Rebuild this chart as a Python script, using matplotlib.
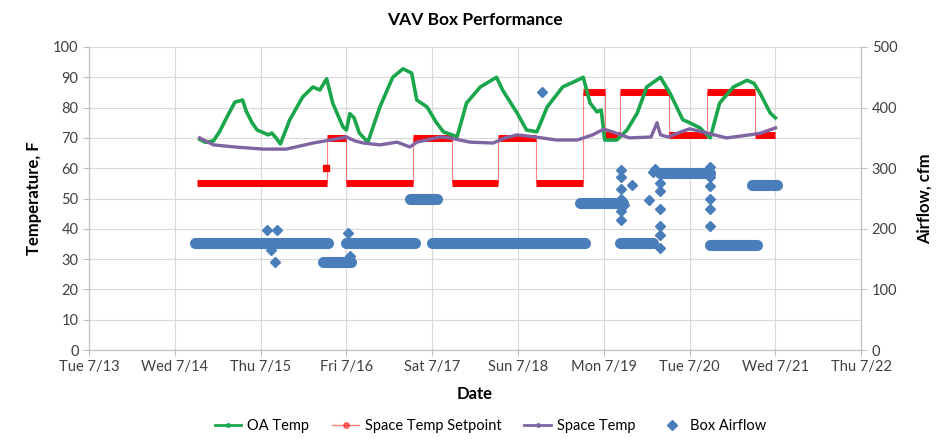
import matplotlib
matplotlib.use("Agg")
import matplotlib.pyplot as plt
from matplotlib.lines import Line2D

plt.rcParams['font.family'] = ['Lato', 'DejaVu Sans']

# x values are days after Tue 7/13 00:00
day_labels = ['Tue 7/13', 'Wed 7/14', 'Thu 7/15', 'Fri 7/16', 'Sat 7/17',
              'Sun 7/18', 'Mon 7/19', 'Tue 7/20', 'Wed 7/21', 'Thu 7/22']

oa_t = [1.29, 1.36, 1.45, 1.52, 1.61, 1.70, 1.79, 1.83, 1.90, 1.96, 2.09, 2.13,
        2.18, 2.23, 2.34, 2.49, 2.61, 2.69, 2.77, 2.84, 2.96, 3.00, 3.04, 3.09,
        3.15, 3.25, 3.39, 3.54, 3.66, 3.76, 3.82, 3.94, 4.05, 4.13, 4.29, 4.40,
        4.56, 4.75, 4.82, 4.99, 5.10, 5.22, 5.34, 5.52, 5.69, 5.76, 5.84, 5.92,
        5.97, 6.01, 6.15, 6.27, 6.39, 6.50, 6.66, 6.77, 6.92, 7.00, 7.12, 7.24,
        7.35, 7.51, 7.67, 7.75, 7.82, 7.94, 8.00]
oa_temp = [69.5, 68.5, 69, 72, 77, 81.8, 82.5, 79, 75, 72.6, 71, 71.6,
           70, 68, 76, 83.5, 86.8, 85.8, 89.5, 81.5, 73.6, 72.6, 78, 76.6,
           71.6, 68.6, 80.2, 90, 92.8, 91.4, 82.5, 80.2, 75, 72, 70.4, 81.5,
           86.8, 90, 85.8, 78.2, 72.6, 72, 80.2, 86.8, 89, 90, 81.5, 78.6,
           79.2, 69.3, 69.3, 72.6, 78.2, 86.8, 90, 84.8, 76, 75, 73.3, 70,
           81.5, 86.8, 89, 88, 84.8, 78.2, 76.6]

sp_t = [1.29, 1.45, 1.70, 2.03, 2.30, 2.61, 2.85, 3.00, 3.10, 3.20, 3.39, 3.59,
        3.74, 3.82, 4.09, 4.20, 4.44, 4.71, 4.85, 4.99, 5.20, 5.45, 5.69, 5.87,
        6.00, 6.10, 6.30, 6.55, 6.62, 6.66, 6.75, 6.90, 7.00, 7.20, 7.43, 7.70,
        7.82, 8.00]
space_temp = [70, 67.7, 67, 66.3, 66.3, 68.3, 69.5, 70.3, 69, 68.3, 67.7, 68.6,
              67, 68.6, 70.3, 70, 68.6, 68.3, 70, 71, 70.3, 69.3, 69.3, 71,
              72.9, 72, 70, 70.3, 75, 71, 70.3, 72, 73, 71.6, 70, 71,
              71.5, 73.3]

# setpoint schedule: start day, end day, setpoint F
set_start = [1.26, 2.77, 3.00, 3.78, 4.23, 4.77, 5.21, 5.76, 6.01, 6.19, 6.76, 7.20, 7.76]
set_end = [2.77, 3.00, 3.78, 4.23, 4.77, 5.21, 5.76, 6.01, 6.19, 6.76, 7.20, 7.76, 8.00]
set_level = [55, 70, 55, 70, 55, 70, 55, 85, 71, 85, 71, 85, 71]
set_odd_t = [2.76]
set_odd_v = [60]

# box airflow: steady bands (start, end, cfm) plus stray readings
flow_start = [1.24, 2.73, 3.00, 3.74, 4.00, 5.72, 6.19, 6.66, 7.24, 7.73]
flow_end = [2.79, 3.05, 3.80, 4.06, 5.78, 6.22, 6.57, 7.24, 7.78, 8.02]
flow_level = [176, 145, 176, 250, 176, 243, 176, 292, 174, 273]
stray_t = [2.07, 2.19, 2.17, 2.12, 3.02, 3.04, 5.28,
           6.20, 6.20, 6.20, 6.20, 6.20, 6.20, 6.33, 6.23,
           6.57, 6.60, 6.53, 6.65, 6.65, 6.66, 6.66, 6.66, 6.66,
           7.24, 7.24, 7.24, 7.24, 7.24, 7.24]
stray_cfm = [198, 198, 145, 165, 193, 155, 426,
             297, 285, 265, 250, 230, 215, 272, 240,
             294, 298, 248, 275, 262, 233, 205, 190, 168,
             302, 285, 270, 250, 232, 205]

green = '#1aa64a'
red = '#ff0000'
purple = '#8064a2'
blue = '#4a7ebb'
axis_gray = '#bfbfbf'

fig = plt.figure(figsize=(9.44, 4.42), dpi=100)
ax = fig.add_axes([0.0943, 0.2081, 0.818, 0.6856])
ax2 = ax.twinx()

# setpoint: thick runs and thin risers
ax.hlines(set_level, set_start, set_end, color=red, lw=5, zorder=3)
for i in range(1, len(set_level)):
    ax.vlines(set_start[i], set_level[i - 1], set_level[i], color=red, lw=0.8,
              alpha=0.5, zorder=2)
ax.plot(set_odd_t, set_odd_v, 's', color=red, ms=4, zorder=3)

ax.plot(oa_t, oa_temp, color=green, lw=2.6, zorder=4)
ax.plot(sp_t, space_temp, color=purple, lw=2.4, zorder=5)

for s, e, v in zip(flow_start, flow_end, flow_level):
    ax2.plot([s, e], [v, v], color=blue, lw=8, solid_capstyle='round', zorder=3)
ax2.plot(stray_t, stray_cfm, 'D', color=blue, ms=5, zorder=3)

ax.set_xlim(0, 9)
ax.set_ylim(0, 100)
ax2.set_ylim(0, 500)
ax.set_xticks(range(10))
ax.set_xticklabels(day_labels)
ax.set_yticks(range(0, 101, 10))
ax2.set_yticks(range(0, 501, 100))

ax.grid(True, color='#d9d9d9', lw=0.8)
ax.set_axisbelow(True)
for a in (ax, ax2):
    a.spines['top'].set_visible(False)
    for side in ('left', 'right', 'bottom'):
        a.spines[side].set_color(axis_gray)
    a.tick_params(colors=axis_gray, labelcolor='#404040', labelsize=10.5, length=4)

ax.set_title('VAV Box Performance', fontsize=12.5, fontweight='bold', pad=16)
ax.set_xlabel('Date', fontsize=12, fontweight='bold', labelpad=8)
ax.set_ylabel('Temperature, F', fontsize=12, fontweight='bold', labelpad=8)
ax2.set_ylabel('Airflow, cfm', fontsize=12, fontweight='bold', labelpad=14)

handles = [
    Line2D([], [], color=green, lw=2, marker='o', ms=2.5),
    Line2D([], [], color=red, lw=1, alpha=0.5, marker='o', ms=4, mec=red, mfc=red),
    Line2D([], [], color=purple, lw=2, marker='o', ms=2.5),
    Line2D([], [], color=blue, lw=0, marker='D', ms=5),
]
fig.legend(handles, ['OA Temp', 'Space Temp Setpoint', 'Space Temp', 'Box Airflow'],
           loc='lower center', bbox_to_anchor=(0.52, -0.01), ncol=4, frameon=False,
           fontsize=10.5, columnspacing=1.6, handlelength=1.8, handletextpad=0.4)

fig.savefig('out.png', dpi=100)
